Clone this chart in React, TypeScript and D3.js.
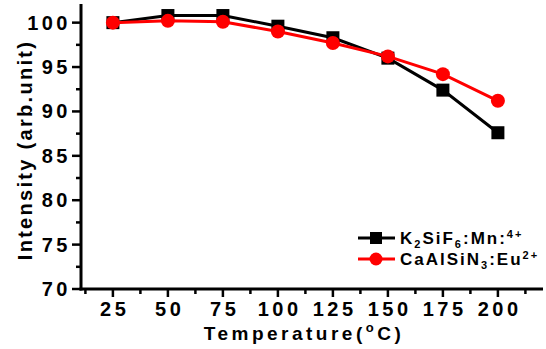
import React from "react";
import * as d3 from "d3";

const temperatures = [25, 50, 75, 100, 125, 150, 175, 200];
const ksfValues = [100, 100.8, 100.8, 99.6, 98.3, 96.0, 92.4, 87.6];
const casnValues = [100, 100.2, 100.1, 99.0, 97.7, 96.2, 94.2, 91.2];
const xTicks = [25, 50, 75, 100, 125, 150, 175, 200];
const yTicks = [70, 75, 80, 85, 90, 95, 100];

const W = 546, H = 349;
const left = 81, right = 543, top = 4, bottom = 289;

export default function App() {
  const x = d3.scaleLinear().domain([10.5, 220.5]).range([left, right]);
  const y = d3.scaleLinear().domain([70, 102.1]).range([bottom, top]);
  const line = d3.line<number>().x((_, i) => x(temperatures[i])).y((d) => y(d));
  const xMinor = d3.range(12.5, 220, 25);
  const yMinor = d3.range(72.5, 102, 5);
  const font = "'Liberation Sans', Arial, sans-serif";
  return (
    <svg width={W} height={H} style={{ position: "absolute", left: 0, top: 0 }} fontFamily={font} fontWeight="bold">
      <rect width={W} height={H} fill="white" />
      {/* axes */}
      <line x1={left} x2={left} y1={top} y2={bottom + 1.5} stroke="black" strokeWidth={3} />
      <line x1={left - 1.5} x2={right} y1={bottom} y2={bottom} stroke="black" strokeWidth={3} />
      {yTicks.map((t) => (
        <g key={"y" + t}>
          <line x1={left - 9} x2={left} y1={y(t)} y2={y(t)} stroke="black" strokeWidth={2.5} />
          <text x={71} y={y(t) + 7} textAnchor="end" fontSize={20} letterSpacing={3.5}>{t}</text>
        </g>
      ))}
      {yMinor.map((t) => (
        <line key={"ym" + t} x1={left - 5} x2={left} y1={y(t)} y2={y(t)} stroke="black" strokeWidth={2.5} />
      ))}
      {xTicks.map((t) => (
        <g key={"x" + t}>
          <line x1={x(t)} x2={x(t)} y1={bottom} y2={bottom + 8} stroke="black" strokeWidth={2.5} />
          <text x={x(t) + 1.75} y={bottom + 27} textAnchor="middle" fontSize={20} letterSpacing={3.5}>{t}</text>
        </g>
      ))}
      {xMinor.map((t) => (
        <line key={"xm" + t} x1={x(t)} x2={x(t)} y1={bottom} y2={bottom + 5} stroke="black" strokeWidth={2.5} />
      ))}
      {/* axis titles */}
      <text x={304} y={340} textAnchor="middle" fontSize={19} letterSpacing={3.5}>
        Temperature(<tspan dy={-8} fontSize={13}>o</tspan><tspan dy={8}>C)</tspan>
      </text>
      <text transform={`translate(32,150) rotate(-90)`} textAnchor="middle" fontSize={20} letterSpacing={2.3}>
        Intensity (arb.unit)
      </text>
      {/* series */}
      <path d={line(ksfValues) || ""} fill="none" stroke="black" strokeWidth={3} />
      {ksfValues.map((v, i) => (
        <rect key={"k" + i} x={x(temperatures[i]) - 6.5} y={y(v) - 6.5} width={13} height={13} fill="black" />
      ))}
      <path d={line(casnValues) || ""} fill="none" stroke="#ff0000" strokeWidth={3} />
      {casnValues.map((v, i) => (
        <circle key={"c" + i} cx={x(temperatures[i])} cy={y(v)} r={7} fill="#ff0000" />
      ))}
      {/* legend */}
      <g>
        <line x1={358} x2={395} y1={238} y2={238} stroke="black" strokeWidth={3} />
        <rect x={370} y={232} width={12} height={12} fill="black" />
        <text x={400} y={244} fontSize={17} letterSpacing={2}>
          K<tspan dy={4} fontSize={11}>2</tspan><tspan dy={-4}>SiF</tspan><tspan dy={4} fontSize={11}>6</tspan><tspan dy={-4}>:Mn:</tspan><tspan dy={-6} fontSize={11}>4+</tspan>
        </text>
        <line x1={358} x2={395} y1={259} y2={259} stroke="#ff0000" strokeWidth={3} />
        <circle cx={376} cy={259} r={6.5} fill="#ff0000" />
        <text x={400} y={265} fontSize={17} letterSpacing={2}>
          CaAlSiN<tspan dy={4} fontSize={11}>3</tspan><tspan dy={-4}>:Eu</tspan><tspan dy={-6} fontSize={11}>2+</tspan>
        </text>
      </g>
    </svg>
  );
}
